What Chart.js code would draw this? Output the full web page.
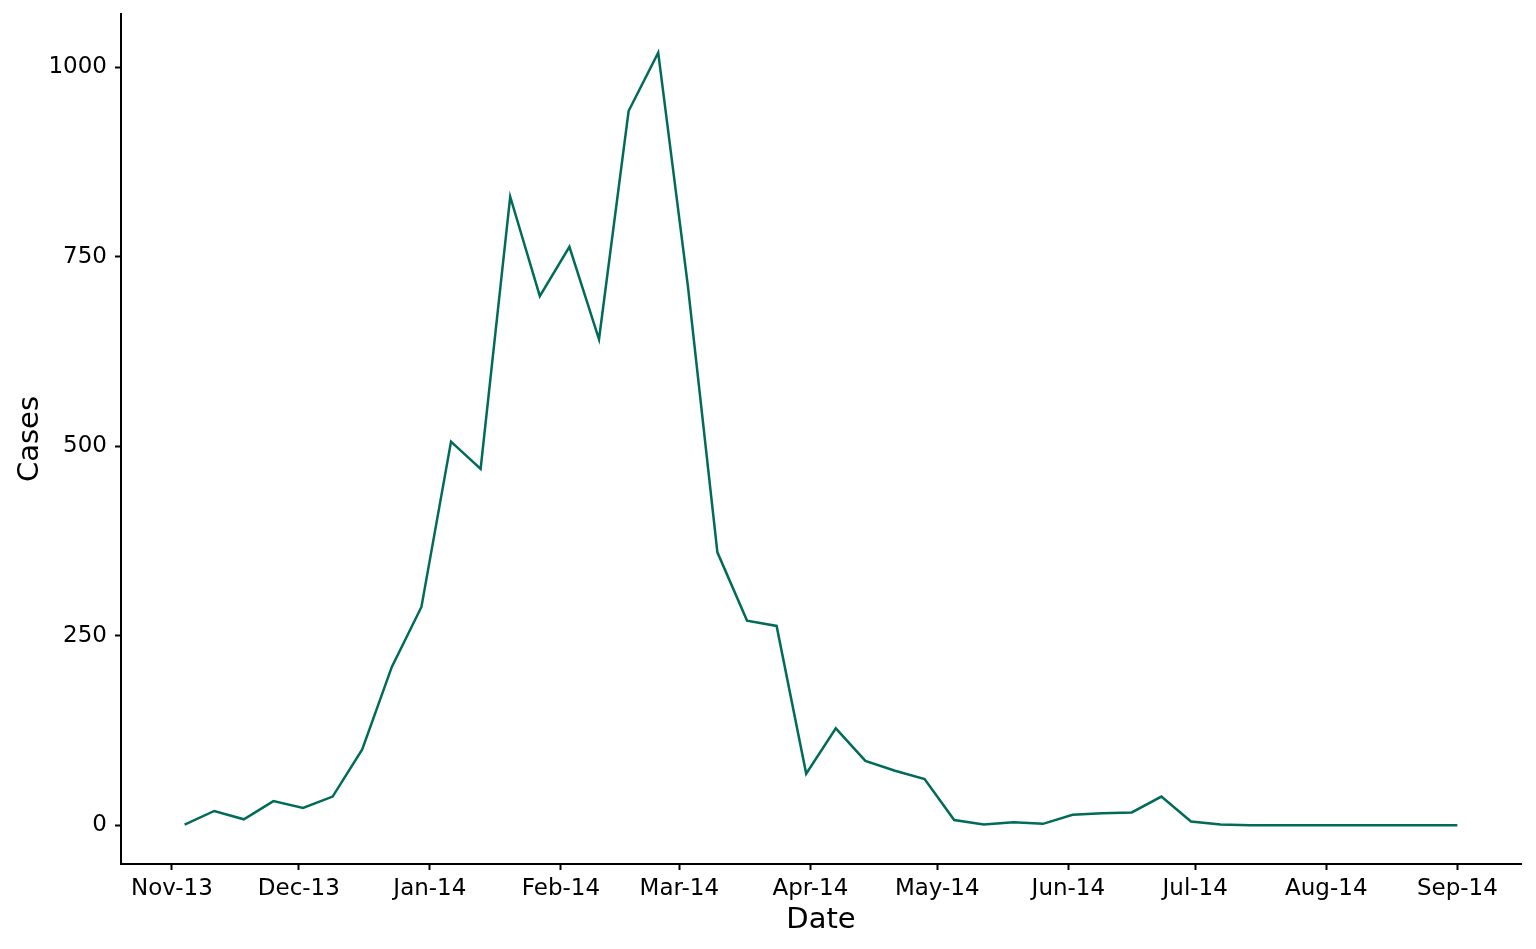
<!DOCTYPE html>
<html>
<head>
<meta charset="utf-8">
<script src="https://cdn.jsdelivr.net/npm/chart.js@4"></script>
<style>
  html, body { margin: 0; padding: 0; background: #fff; }
  #wrap { width: 1536px; height: 949px; }
</style>
</head>
<body>
<div id="wrap"><canvas id="casesChart"></canvas></div>
<script>
// weekly case counts, week starting dates
const weeks = [
  '2013-11-04', '2013-11-11', '2013-11-18', '2013-11-25', '2013-12-02', '2013-12-09',
  '2013-12-16', '2013-12-23', '2013-12-30', '2014-01-06', '2014-01-13', '2014-01-20',
  '2014-01-27', '2014-02-03', '2014-02-10', '2014-02-17', '2014-02-24', '2014-03-03',
  '2014-03-10', '2014-03-17', '2014-03-24', '2014-03-31', '2014-04-07', '2014-04-14',
  '2014-04-21', '2014-04-28', '2014-05-05', '2014-05-12', '2014-05-19', '2014-05-26',
  '2014-06-02', '2014-06-09', '2014-06-16', '2014-06-23', '2014-06-30', '2014-07-07',
  '2014-07-14', '2014-07-21', '2014-07-28', '2014-08-04', '2014-08-11', '2014-08-18',
  '2014-08-25', '2014-09-01'
];
const cases = [
  1, 19, 8, 32, 23, 38,
  100, 209, 288, 506, 470, 829,
  698, 763, 641, 942, 1019, 712,
  360, 270, 263, 68, 128, 85,
  72, 61, 7, 1, 4, 2,
  14, 16, 17, 38, 5, 1,
  0, 0, 0, 0, 0, 0,
  0, 0
];
const monthTicks = ['2013-11-01', '2013-12-01', '2014-01-01', '2014-02-01', '2014-03-01', '2014-04-01',
  '2014-05-01', '2014-06-01', '2014-07-01', '2014-08-01', '2014-09-01'];
const monthLabels = ['Nov-13', 'Dec-13', 'Jan-14', 'Feb-14', 'Mar-14', 'Apr-14',
  'May-14', 'Jun-14', 'Jul-14', 'Aug-14', 'Sep-14'];
const yTicks = [0, 250, 500, 750, 1000];

const toDay = s => Date.parse(s + 'T00:00:00Z') / 864e5;
const points = weeks.map((w, i) => ({ x: toDay(w), y: cases[i] }));
const tickDays = monthTicks.map(toDay);

// ggplot-style 5% expansion
const xLo = toDay(weeks[0]), xHi = toDay(weeks[weeks.length - 1]);
const xPad = (xHi - xLo) * 0.05;
const yLo = Math.min(...cases), yHi = Math.max(...cases);
const yPad = (yHi - yLo) * 0.05;

const font = 'DejaVu Sans';

new Chart(document.getElementById('casesChart'), {
  type: 'line',
  data: {
    datasets: [{
      data: points,
      borderColor: '#006b58',
      borderWidth: 2.5,
      pointRadius: 0,
      tension: 0,
      fill: false
    }]
  },
  options: {
    responsive: true,
    maintainAspectRatio: false,
    animation: false,
    layout: { padding: { left: 0, top: 14, right: 15, bottom: 0 } },
    plugins: { legend: { display: false }, tooltip: { enabled: false } },
    scales: {
      x: {
        type: 'linear',
        min: xLo - xPad,
        max: xHi + xPad,
        afterFit: s => { s.height = 85; },
        afterBuildTicks: s => { s.ticks = tickDays.map(v => ({ value: v })); },
        ticks: {
          autoSkip: false,
          maxRotation: 0,
          padding: 5,
          color: '#000',
          font: { family: font, size: 23 },
          callback: v => monthLabels[tickDays.indexOf(v)]
        },
        grid: { drawOnChartArea: false, drawTicks: true, tickLength: 6, tickWidth: 2, tickColor: '#000' },
        border: { display: true, color: '#000', width: 2 },
        title: { display: true, text: 'Date', color: '#000', font: { family: font, size: 29 }, padding: { top: 0, bottom: 11 } }
      },
      y: {
        min: yLo - yPad,
        max: yHi + yPad,
        afterFit: s => { s.width = 121; s.paddingTop = 0; s.paddingBottom = 0; },
        afterBuildTicks: s => { s.ticks = yTicks.map(v => ({ value: v })); },
        ticks: {
          padding: 8,
          color: '#000',
          font: { family: font, size: 23 },
          callback: v => String(v)
        },
        grid: { drawOnChartArea: false, drawTicks: true, tickLength: 6, tickWidth: 2, tickColor: '#000' },
        border: { display: true, color: '#000', width: 2 },
        title: { display: true, text: 'Cases', color: '#000', font: { family: font, size: 29 }, padding: { top: 13, bottom: 0 } }
      }
    }
  }
});
</script>
</body>
</html>
